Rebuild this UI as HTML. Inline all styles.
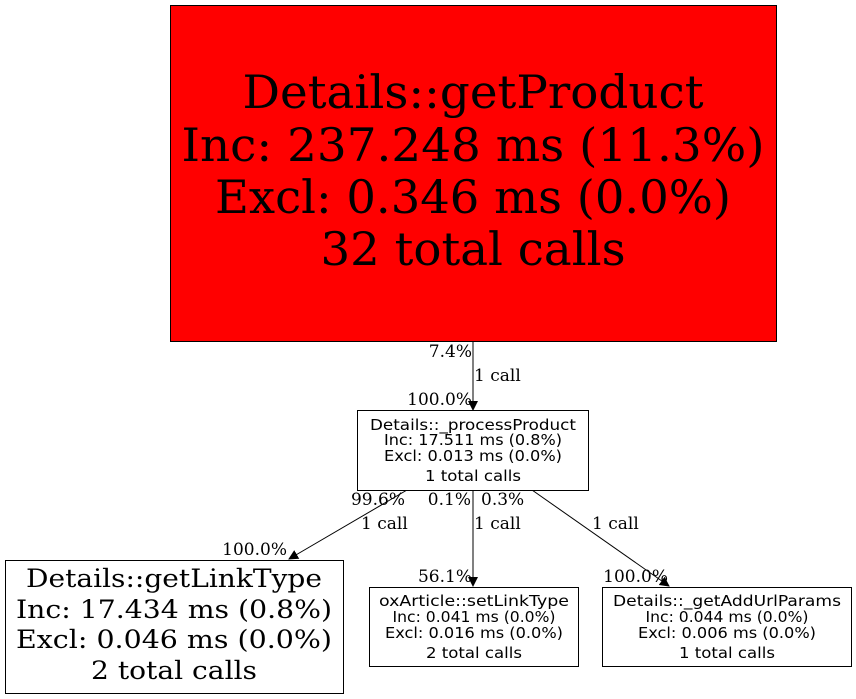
<!DOCTYPE html>
<html><head><meta charset="utf-8"><style>html,body{margin:0;padding:0;background:#fff}svg{display:block}</style></head>
<body>
<svg width="856" height="699" viewBox="0 0 856 699" xmlns="http://www.w3.org/2000/svg">
<defs>
<marker id="a" markerWidth="10" markerHeight="10" refX="9" refY="5" orient="auto" markerUnits="userSpaceOnUse"><path d="M0,0 L10,5 L0,10 z" fill="#000"/></marker>
</defs>
<rect x="170.5" y="5.5" width="606" height="336" fill="#ff0000" stroke="#000"/>
<g font-family="'DejaVu Serif','Liberation Serif',serif" font-size="46" text-anchor="middle" fill="#000">
<text x="473" y="108" textLength="461" lengthAdjust="spacingAndGlyphs">Details::getProduct</text>
<text x="473" y="161" textLength="583" lengthAdjust="spacingAndGlyphs">Inc: 237.248 ms (11.3%)</text>
<text x="473" y="213" textLength="516" lengthAdjust="spacingAndGlyphs">Excl: 0.346 ms (0.0%)</text>
<text x="473" y="265" textLength="305" lengthAdjust="spacingAndGlyphs">32 total calls</text>
</g>
<g stroke="#000" fill="none">
<line x1="473" y1="341" x2="473" y2="410" marker-end="url(#a)"/>
<line x1="407" y1="490" x2="289" y2="559" marker-end="url(#a)"/>
<line x1="473" y1="490" x2="473" y2="586" marker-end="url(#a)"/>
<line x1="532" y1="490" x2="669" y2="586" marker-end="url(#a)"/>
</g>
<g font-family="'DejaVu Serif','Liberation Serif',serif" font-size="17" fill="#000">
<text x="472" y="357" text-anchor="end">7.4%</text>
<text x="474" y="381">1 call</text>
<text x="472" y="405" text-anchor="end">100.0%</text>
<text x="405" y="505" text-anchor="end">99.6%</text>
<text x="361" y="529">1 call</text>
<text x="287" y="555" text-anchor="end">100.0%</text>
<text x="471" y="505" text-anchor="end">0.1%</text>
<text x="481" y="505">0.3%</text>
<text x="474" y="529">1 call</text>
<text x="592" y="529">1 call</text>
<text x="472" y="582" text-anchor="end">56.1%</text>
<text x="668" y="582" text-anchor="end">100.0%</text>
</g>
<rect x="357.5" y="410.5" width="231" height="80" fill="#fff" stroke="#000"/>
<g font-family="'DejaVu Sans','Liberation Sans',sans-serif" font-size="15" text-anchor="middle" fill="#000">
<text x="473" y="430" textLength="206" lengthAdjust="spacingAndGlyphs">Details::_processProduct</text>
<text x="473" y="445" textLength="178" lengthAdjust="spacingAndGlyphs">Inc: 17.511 ms (0.8%)</text>
<text x="473" y="461" textLength="178" lengthAdjust="spacingAndGlyphs">Excl: 0.013 ms (0.0%)</text>
<text x="473" y="481" textLength="96" lengthAdjust="spacingAndGlyphs">1 total calls</text>
</g>
<rect x="5.5" y="560.5" width="338" height="133" fill="#fff" stroke="#000"/>
<g font-family="'DejaVu Serif','Liberation Serif',serif" font-size="25" text-anchor="middle" fill="#000">
<text x="174" y="587" textLength="296" lengthAdjust="spacingAndGlyphs">Details::getLinkType</text>
<text x="174" y="618" textLength="316" lengthAdjust="spacingAndGlyphs">Inc: 17.434 ms (0.8%)</text>
<text x="174" y="648" textLength="316" lengthAdjust="spacingAndGlyphs">Excl: 0.046 ms (0.0%)</text>
<text x="174" y="679" textLength="166" lengthAdjust="spacingAndGlyphs">2 total calls</text>
</g>
<rect x="369.5" y="587.5" width="209" height="79" fill="#fff" stroke="#000"/>
<rect x="602.5" y="587.5" width="249" height="79" fill="#fff" stroke="#000"/>
<g font-family="'DejaVu Sans','Liberation Sans',sans-serif" font-size="15" text-anchor="middle" fill="#000">
<text x="474" y="606" textLength="190" lengthAdjust="spacingAndGlyphs">oxArticle::setLinkType</text>
<text x="474" y="622" textLength="163" lengthAdjust="spacingAndGlyphs">Inc: 0.041 ms (0.0%)</text>
<text x="474" y="638" textLength="178" lengthAdjust="spacingAndGlyphs">Excl: 0.016 ms (0.0%)</text>
<text x="474" y="658" textLength="96" lengthAdjust="spacingAndGlyphs">2 total calls</text>
<text x="727" y="606" textLength="228" lengthAdjust="spacingAndGlyphs">Details::_getAddUrlParams</text>
<text x="727" y="622" textLength="163" lengthAdjust="spacingAndGlyphs">Inc: 0.044 ms (0.0%)</text>
<text x="727" y="638" textLength="178" lengthAdjust="spacingAndGlyphs">Excl: 0.006 ms (0.0%)</text>
<text x="727" y="658" textLength="96" lengthAdjust="spacingAndGlyphs">1 total calls</text>
</g>
</svg>
</body></html>
